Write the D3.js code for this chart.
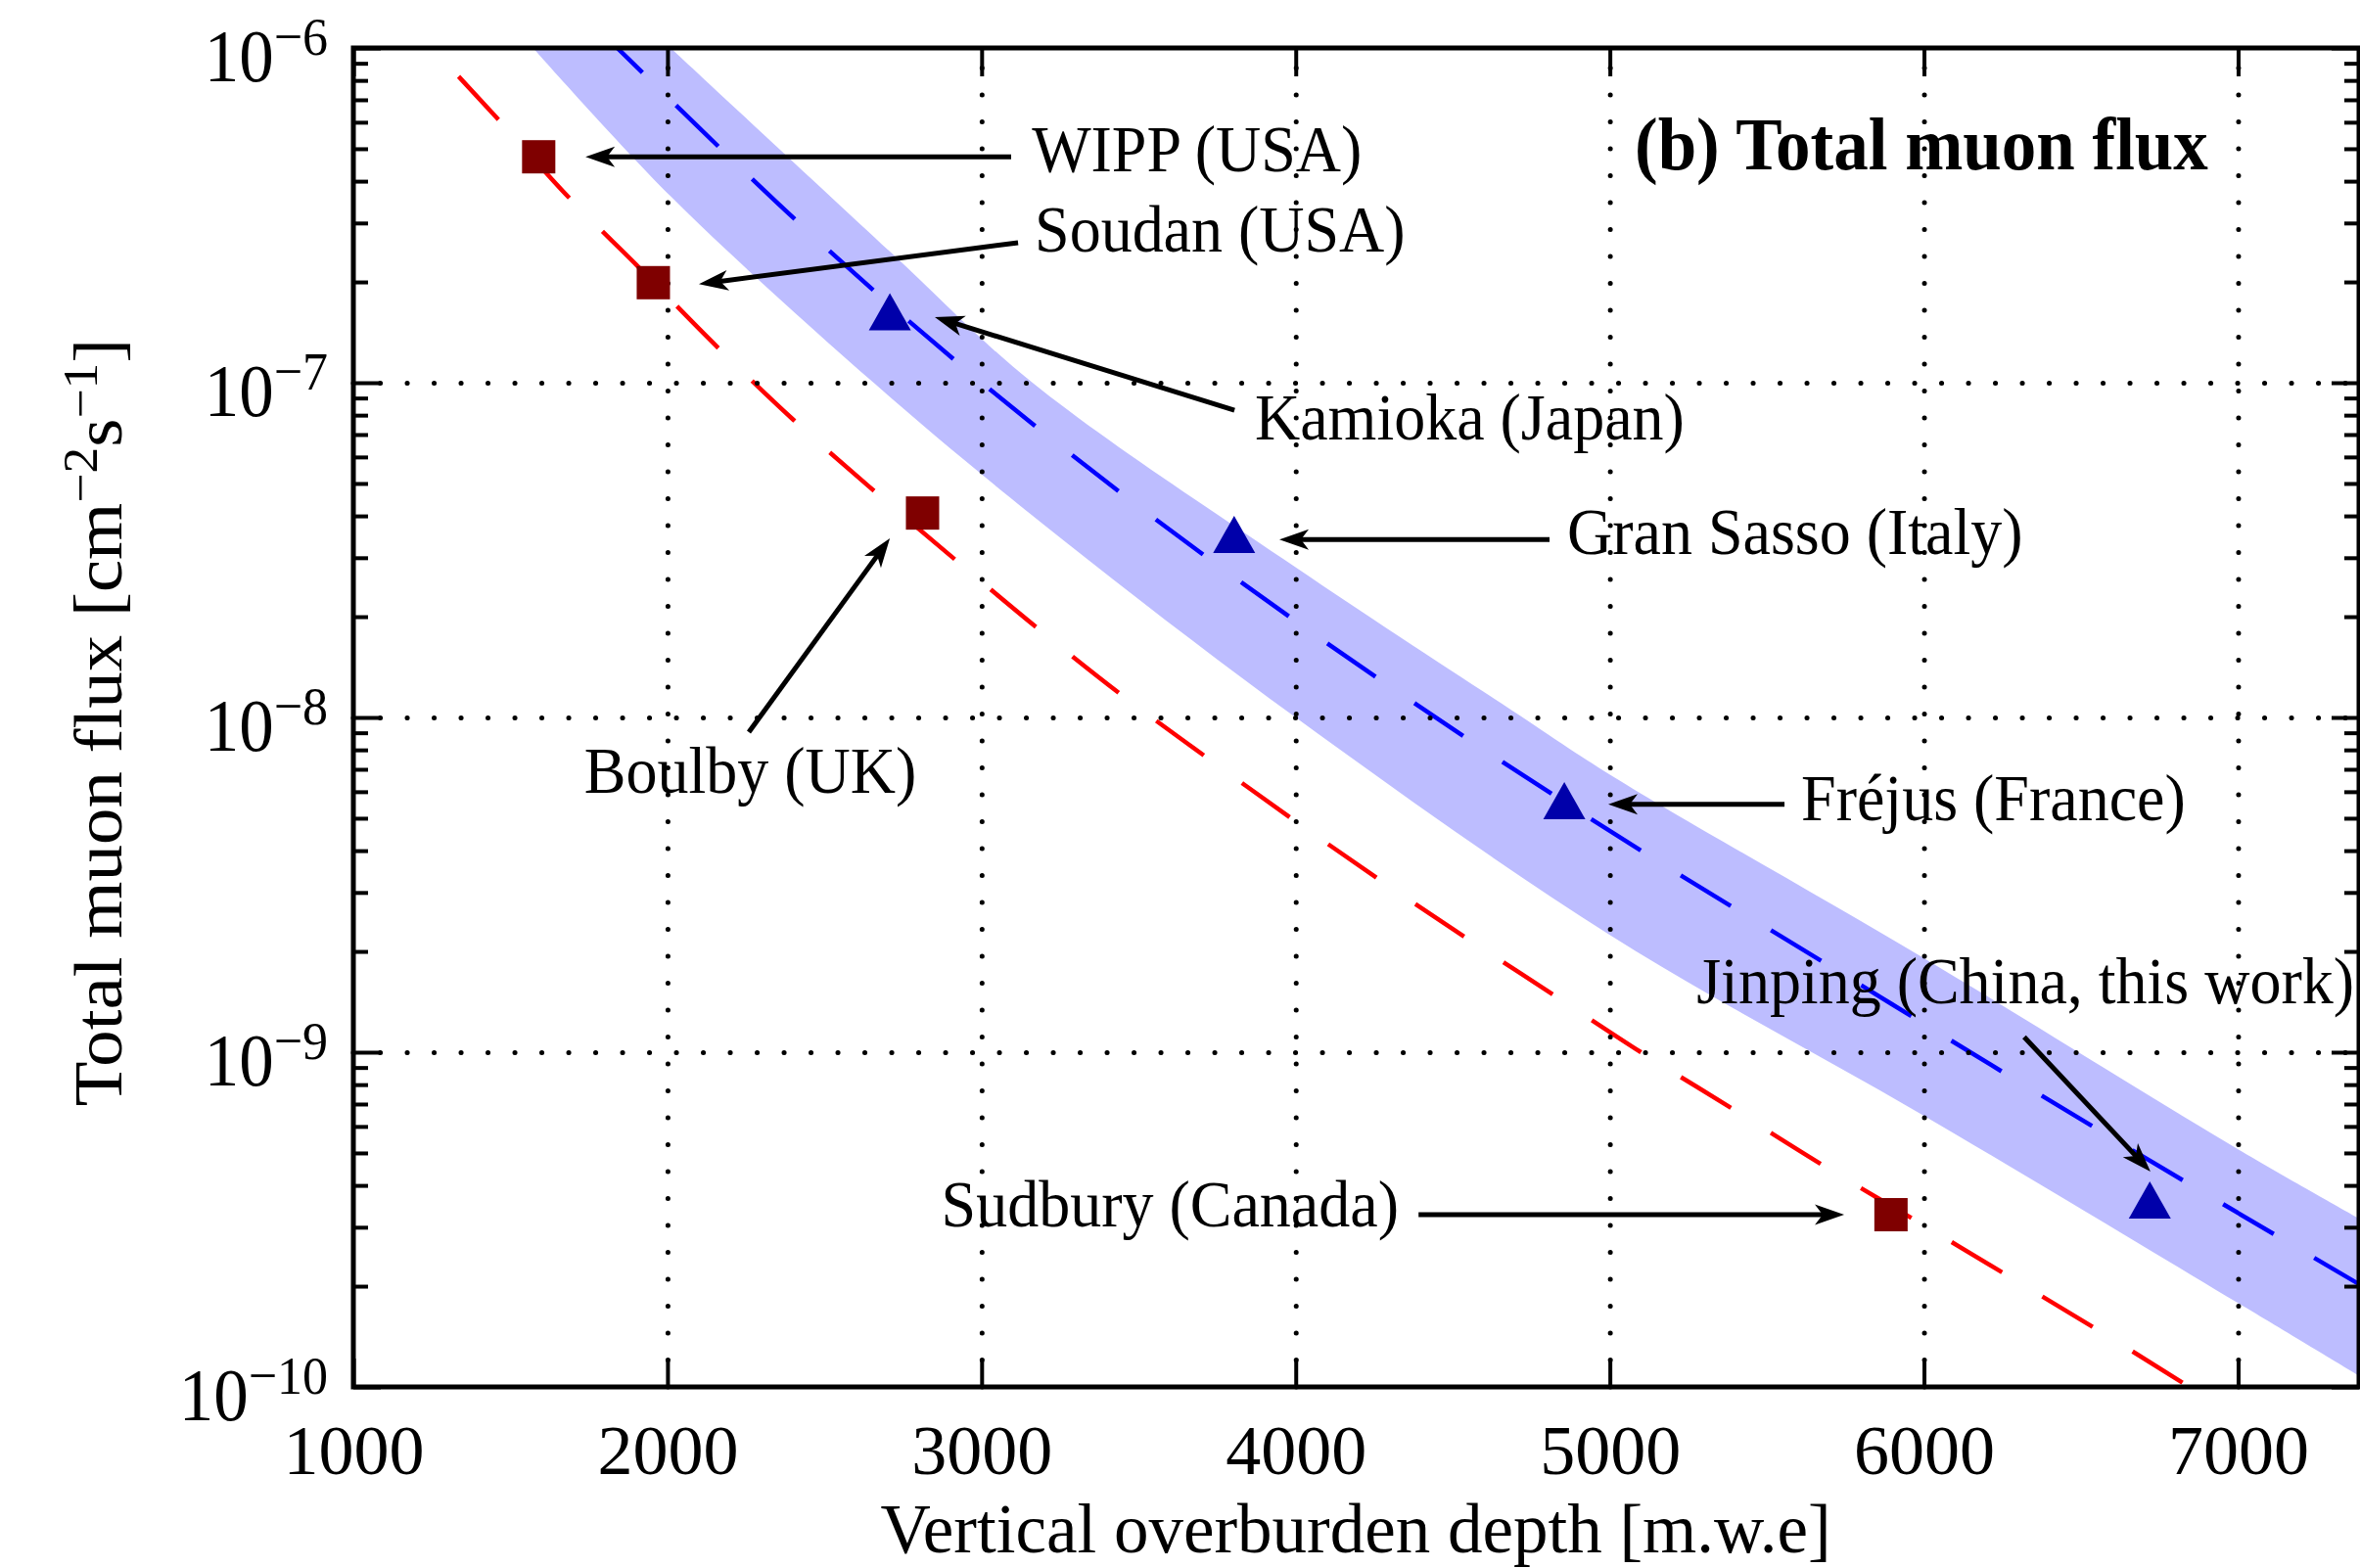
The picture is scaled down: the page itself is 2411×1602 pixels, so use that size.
<!DOCTYPE html>
<html>
<head>
<meta charset="utf-8">
<script src="https://cdn.jsdelivr.net/npm/d3@7"></script>
<style>
  body { margin: 0; background: #fff; }
  svg text { font-family: "Liberation Serif", "Times New Roman", serif; fill: #000; }
  .grid path { display: none; }
  .grid line { stroke: #000; stroke-width: 5; stroke-dasharray: 0.1 27.4; stroke-linecap: round; }
  .ticks path { display: none; }
  .ticks line { stroke: #000; stroke-width: 4; }
</style>
</head>
<body>
<svg id="chart" width="2411" height="1602"></svg>
<script>

  // axis ticks
  var xTicks = [1000, 2000, 3000, 4000, 5000, 6000, 7000];
  var yTicks = [1e-10, 1e-9, 1e-8, 1e-7, 1e-6];
  var yTickExp = ["−10", "−9", "−8", "−7", "−6"];

  // labs shown with squares
  var squareSites = ["WIPP (USA)", "Soudan (USA)", "Boulby (UK)", "Sudbury (Canada)"];
  var squareDepth = [1590, 1955, 2812, 5895];
  var squareFlux = [4.73e-7, 1.99e-7, 4.08e-8, 3.27e-10];

  // labs shown with triangles
  var triangleSites = ["Kamioka (Japan)", "Gran Sasso (Italy)", "Fréjus (France)", "Jinping (China, this work)"];
  var triangleDepth = [2708, 3804, 4855, 6719];
  var triangleFlux = [1.63e-7, 3.52e-8, 5.64e-9, 3.62e-10];

  // red dashed curve
  var redDepth = [1335, 1457, 1683, 1907, 2158, 2402, 2660, 2918, 3174, 3439, 3711,
    3983, 4262, 4541, 4827, 5099, 5389, 5679, 5969, 6259, 6548, 6845];
  var redFlux = [8.22e-7, 6.18e-7, 3.60e-7, 2.22e-7, 1.28e-7, 7.73e-8, 4.73e-8, 2.95e-8, 1.86e-8, 1.18e-8, 7.66e-9,
    5.02e-9, 3.30e-9, 2.20e-9, 1.47e-9, 1.00e-9, 6.79e-10, 4.59e-10, 3.16e-10, 2.17e-10, 1.49e-10, 1.0e-10];

  // blue dashed curve
  var blueDepth = [1840, 2032, 2402, 2911, 3439, 3983, 4541, 5099, 5679, 6259, 6838, 7392];
  var blueFlux = [1.0e-6, 6.67e-7, 3.10e-7, 1.175e-7, 4.72e-8, 1.99e-8, 8.71e-9, 4.00e-9, 1.86e-9, 8.63e-10, 4.07e-10, 2.01e-10];

  // shaded band, upper and lower edge
  var bandUpDepth = [2010, 2715, 3162, 4004, 4688, 5008, 6000, 7000, 7392];
  var bandUpFlux = [1.0e-6, 2.43e-7, 1.0e-7, 2.79e-8, 1.05e-8, 6.68e-9, 1.91e-9, 5.13e-10, 3.16e-10];
  var bandLoDepth = [1572, 2011, 2660, 3187, 4000, 5000, 6000, 7000, 7392];
  var bandLoFlux = [1.0e-6, 3.60e-7, 9.93e-8, 3.84e-8, 1.0e-8, 2.24e-9, 6.46e-10, 1.78e-10, 1.07e-10];

  // annotations (text position, arrow tail, arrow tip) in data units
  var noteText = ["WIPP (USA)", "Soudan (USA)", "Kamioka (Japan)", "Gran Sasso (Italy)",
    "Fréjus (France)", "Jinping (China, this work)", "Sudbury (Canada)", "Boulby (UK)"];
  var noteDepth = [3160, 3169, 3870, 4864, 5609, 5276, 4328, 1735];
  var noteFlux = [4.29e-7, 2.47e-7, 6.76e-8, 3.08e-8, 4.93e-9, 1.40e-9, 3.02e-10, 5.96e-9];
  var noteAnchor = ["start", "start", "start", "start", "start", "start", "end", "start"];
  var arrowFromDepth = [3094, 3116, 3805, 4808, 5556, 6319, 4391, 2259];
  var arrowFromFlux = [4.73e-7, 2.62e-7, 8.28e-8, 3.40e-8, 5.50e-9, 1.11e-9, 3.27e-10, 9.04e-9];
  var arrowToDepth = [1739, 2100, 2851, 3948, 4995, 6721, 5746, 2708];
  var arrowToFlux = [4.73e-7, 1.97e-7, 1.57e-7, 3.40e-8, 5.50e-9, 4.40e-10, 3.27e-10, 3.43e-8];

  var margin = { top: 49, left: 361 }
    , width = 2049
    , height = 1368;

  var svg = d3.select("#chart");
  var g = svg.append("g")
    .attr("transform", "translate(" + margin.left + "," + margin.top + ")");

  var x = d3.scaleLinear().domain([1000, 7385]).range([0, width]);
  var y = d3.scaleLog().domain([1e-10, 1e-6]).range([height, 0]);

  svg.append("defs").append("clipPath").attr("id", "plotclip")
    .append("rect").attr("width", width).attr("height", height);

  // text is a bit taller than wide in the original
  function addText(parent, px, py, str, size, anchor, bold, stretch) {
    return parent.append("text")
      .attr("transform", "translate(" + px + "," + py + ") scale(1," + (stretch || 1.07) + ")")
      .attr("font-size", size)
      .attr("text-anchor", anchor || "start")
      .attr("font-weight", bold ? "bold" : null)
      .text(str);
  }

  var line = d3.line()
    .x(function (d) { return x(d[0]); })
    .y(function (d) { return y(d[1]); });

  var plot = g.append("g").attr("clip-path", "url(#plotclip)");

  // band
  var edge = d3.line()
    .x(function (d) { return x(d[0]); })
    .y(function (d) { return y(d[1]); })
    .curve(d3.curveCatmullRom);
  var up = d3.zip(bandUpDepth, bandUpFlux);
  var lo = d3.zip(bandLoDepth, bandLoFlux).reverse();
  plot.append("path")
    .attr("d", edge(up) + "L" + edge(lo).slice(1) + "Z")
    .attr("fill", "#bdbdff");

  // grid
  g.append("g").attr("class", "grid")
    .attr("transform", "translate(0," + height + ")")
    .call(d3.axisBottom(x).tickValues(xTicks.slice(1)).tickSize(-height).tickFormat(""));
  g.append("g").attr("class", "grid")
    .call(d3.axisLeft(y).tickValues(yTicks.slice(1, 4)).tickSize(-width).tickFormat(""));

  // curves
  line.curve(d3.curveMonotoneX);
  plot.append("path")
    .datum(d3.zip(redDepth, redFlux))
    .attr("d", line)
    .attr("fill", "none").attr("stroke", "#ff0000").attr("stroke-width", 4.5)
    .attr("stroke-dasharray", "60 48");
  plot.append("path")
    .datum(d3.zip(blueDepth, blueFlux))
    .attr("d", line)
    .attr("fill", "none").attr("stroke", "#0000ff").attr("stroke-width", 4.5)
    .attr("stroke-dasharray", "60 48").attr("stroke-dashoffset", 24);

  // markers
  g.selectAll(".sq")
    .data(d3.zip(squareDepth, squareFlux))
    .enter().append("rect")
    .attr("class", "sq")
    .attr("x", function (d) { return x(d[0]) - 17; })
    .attr("y", function (d) { return y(d[1]) - 17; })
    .attr("width", 34).attr("height", 34)
    .attr("fill", "#7f0000");

  g.selectAll(".tri")
    .data(d3.zip(triangleDepth, triangleFlux))
    .enter().append("path")
    .attr("class", "tri")
    .attr("transform", function (d) { return "translate(" + x(d[0]) + "," + y(d[1]) + ")"; })
    .attr("d", "M0,-19L21.5,19L-21.5,19Z")
    .attr("fill", "#0000aa");

  // arrows
  noteText.forEach(function (t, i) {
    var fx = x(arrowFromDepth[i]), fy = y(arrowFromFlux[i]);
    var tx = x(arrowToDepth[i]), ty = y(arrowToFlux[i]);
    var ang = Math.atan2(ty - fy, tx - fx);
    g.append("line")
      .attr("x1", fx).attr("y1", fy)
      .attr("x2", tx - 20 * Math.cos(ang)).attr("y2", ty - 20 * Math.sin(ang))
      .attr("stroke", "#000").attr("stroke-width", 5);
    g.append("path")
      .attr("transform", "translate(" + tx + "," + ty + ") rotate(" + (ang * 180 / Math.PI) + ")")
      .attr("d", "M0,0L-30,-10.5L-22,0L-30,10.5Z")
      .attr("fill", "#000");
    addText(g, x(noteDepth[i]), y(noteFlux[i]), t, 64, noteAnchor[i]);
  });

  // axes
  var minorTicks = [];
  for (var k = -10; k < -6; k++) {
    for (var m = 2; m < 10; m++) minorTicks.push(m * Math.pow(10, k));
  }

  var bottom = g.append("g").attr("class", "ticks")
    .attr("transform", "translate(0," + height + ")")
    .call(d3.axisBottom(x).tickValues(xTicks).tickSize(-29).tickFormat(d3.format("d")));
  bottom.selectAll("text")
    .attr("y", 89).attr("dy", null)
    .attr("font-size", 72);

  g.append("g").attr("class", "ticks")
    .call(d3.axisTop(x).tickValues(xTicks).tickSize(-29).tickFormat(""));

  var left = g.append("g").attr("class", "ticks")
    .call(d3.axisLeft(y).tickValues(yTicks).tickSize(-28).tickFormat(""));
  left.selectAll(".tick text").each(function (d) {
    var t = d3.select(this);
    t.attr("x", null).attr("dy", null)
      .attr("transform", "translate(-26,33) scale(1,1.07)")
      .attr("font-size", 71).attr("text-anchor", "end");
    t.append("tspan").text("10");
    t.append("tspan").attr("dy", -25).attr("font-size", 52).text(yTickExp[yTicks.indexOf(d)]);
  });
  g.append("g").attr("class", "ticks")
    .call(d3.axisLeft(y).tickValues(minorTicks).tickSize(-15).tickFormat(""));

  g.append("g").attr("class", "ticks")
    .attr("transform", "translate(" + width + ",0)")
    .call(d3.axisRight(y).tickValues(yTicks).tickSize(-28).tickFormat(""));
  g.append("g").attr("class", "ticks")
    .attr("transform", "translate(" + width + ",0)")
    .call(d3.axisRight(y).tickValues(minorTicks).tickSize(-15).tickFormat(""));

  g.append("rect")
    .attr("width", width).attr("height", height)
    .attr("fill", "none").attr("stroke", "#000").attr("stroke-width", 5);

  // titles
  addText(svg, 1670, 173, "(b) Total muon flux", 71, "start", true);
  addText(svg, 1385, 1586, "Vertical overburden depth [m.w.e]", 71, "middle", false, 1);

  var yl = svg.append("text")
    .attr("transform", "translate(124,738) scale(1,1.07) rotate(-90)")
    .attr("text-anchor", "middle")
    .attr("font-size", 70);
  yl.append("tspan").text("Total muon flux [cm");
  yl.append("tspan").attr("dy", -25).attr("font-size", 50).text("−2");
  yl.append("tspan").attr("dy", 25).text("s");
  yl.append("tspan").attr("dy", -25).attr("font-size", 50).text("−1");
  yl.append("tspan").attr("dy", 25).text("]");

</script>
</body>
</html>
